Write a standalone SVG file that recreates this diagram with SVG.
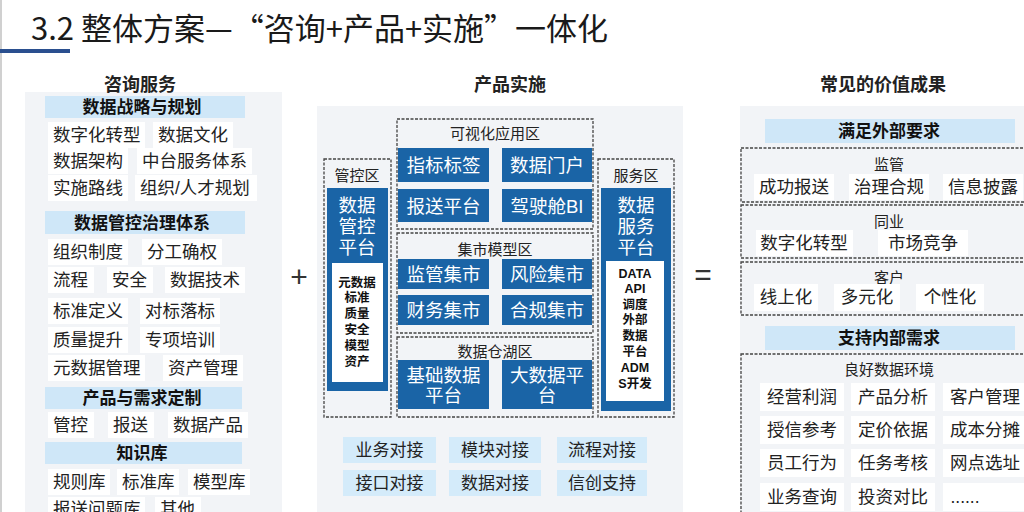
<svg xmlns="http://www.w3.org/2000/svg" width="1024" height="512" viewBox="0 0 1024 512">
<style>
text{font-family:'Liberation Sans','Noto Sans CJK SC',sans-serif;fill:#222;dominant-baseline:central}
.t{font-family:'Noto Sans CJK SC',sans-serif;font-size:31px;dominant-baseline:alphabetic;fill:#1a1a1a}
.ct{font-size:18px;font-weight:bold;text-anchor:middle}
.hb{fill:#cfe7f8}
.hd{font-size:17px;font-weight:bold;text-anchor:middle;fill:#111}
.it{font-size:17.5px}
.ri{font-size:17.5px;text-anchor:middle}
.cell{fill:#ffffff}
.bg{fill:#f2f4f7}
.dz{fill:none;stroke:#444;stroke-width:1.3;stroke-dasharray:3 1.5}
.bl{fill:#1a64a6}
.bt{font-size:18.5px;fill:#ffffff;text-anchor:middle}
.zl{font-size:15px;text-anchor:middle;fill:#222}
.sm{font-size:12.5px;font-weight:bold;text-anchor:middle;fill:#111}
.lb{fill:#d4ebfa}
.lt{font-size:17px;text-anchor:middle;fill:#222}
.op{font-size:30px;text-anchor:middle;fill:#333}
</style>
<rect width="1024" height="512" fill="#ffffff"/>
<line x1="1" y1="0" x2="1" y2="512" stroke="#d0d0d0" stroke-width="2"/>
<g id="title">
<text class="t" x="31" y="40">3.2 整体方案—“咨询+产品+实施”一体化</text>
<rect x="0" y="49" width="70" height="4" fill="#2a4f8f"/>
</g>

<g id="consult">
<rect class="bg" x="25" y="92" width="257" height="420"/>
<text class="ct" x="140" y="85">咨询服务</text>
<rect class="hb" x="45" y="96" width="200" height="22"/>
<text class="hd" x="142" y="107">数据战略与规划</text>
<rect class="cell" x="48" y="122" width="97" height="26"/><text class="it" x="53" y="135">数字化转型</text>
<rect class="cell" x="153" y="122" width="80" height="26"/><text class="it" x="158" y="135">数据文化</text>
<rect class="cell" x="48" y="148" width="80" height="26"/><text class="it" x="53" y="161">数据架构</text>
<rect class="cell" x="137" y="148" width="115" height="26"/><text class="it" x="142" y="161">中台服务体系</text>
<rect class="cell" x="48" y="175" width="80" height="26"/><text class="it" x="53" y="188">实施路线</text>
<rect class="cell" x="135" y="175" width="122" height="26"/><text class="it" x="140" y="188">组织/人才规划</text>
<rect class="hb" x="45" y="211" width="200" height="23"/>
<text class="hd" x="142" y="223">数据管控治理体系</text>
<rect class="cell" x="48" y="239" width="80" height="26"/><text class="it" x="53" y="252">组织制度</text>
<rect class="cell" x="142" y="239" width="80" height="26"/><text class="it" x="147" y="252">分工确权</text>
<rect class="cell" x="48" y="267" width="46" height="26"/><text class="it" x="53" y="280">流程</text>
<rect class="cell" x="107" y="267" width="46" height="26"/><text class="it" x="112" y="280">安全</text>
<rect class="cell" x="165" y="267" width="80" height="26"/><text class="it" x="170" y="280">数据技术</text>
<rect class="cell" x="48" y="298" width="80" height="26"/><text class="it" x="53" y="311">标准定义</text>
<rect class="cell" x="140" y="298" width="80" height="26"/><text class="it" x="145" y="311">对标落标</text>
<rect class="cell" x="48" y="327" width="80" height="26"/><text class="it" x="53" y="340">质量提升</text>
<rect class="cell" x="140" y="327" width="80" height="26"/><text class="it" x="145" y="340">专项培训</text>
<rect class="cell" x="48" y="355" width="97" height="26"/><text class="it" x="53" y="368">元数据管理</text>
<rect class="cell" x="163" y="355" width="80" height="26"/><text class="it" x="168" y="368">资产管理</text>
<rect class="hb" x="45" y="387" width="197" height="22"/>
<text class="hd" x="142" y="398">产品与需求定制</text>
<rect class="cell" x="48" y="412" width="46" height="26"/><text class="it" x="53" y="425">管控</text>
<rect class="cell" x="108" y="412" width="46" height="26"/><text class="it" x="113" y="425">报送</text>
<rect class="cell" x="168" y="412" width="80" height="26"/><text class="it" x="173" y="425">数据产品</text>
<rect class="hb" x="45" y="442" width="197" height="22"/>
<text class="hd" x="142" y="453">知识库</text>
<rect class="cell" x="48" y="469" width="62" height="26"/><text class="it" x="53" y="482">规则库</text>
<rect class="cell" x="117" y="469" width="62" height="26"/><text class="it" x="122" y="482">标准库</text>
<rect class="cell" x="188" y="469" width="62" height="26"/><text class="it" x="193" y="482">模型库</text>
<rect class="cell" x="48" y="497" width="97" height="26"/><text class="it" x="53" y="509">报送问题库</text>
<rect class="cell" x="155" y="497" width="46" height="26"/><text class="it" x="160" y="509">其他</text>
</g>

<g id="ops">
<text class="op" x="299" y="276">+</text>
<text class="op" x="703" y="274">=</text>
</g>

<g id="product">
<rect class="bg" x="317" y="106" width="366" height="406"/>
<text class="ct" x="510" y="85">产品实施</text>
</g>

<g id="zone-control">
<rect class="dz" x="324" y="159" width="67" height="258"/>
<text class="zl" x="357" y="175">管控区</text>
<rect class="bl" x="327" y="188" width="61" height="203"/>
<text class="bt" x="357" y="205">数据</text>
<text class="bt" x="357" y="226">管控</text>
<text class="bt" x="357" y="247">平台</text>
<rect x="332" y="263" width="51" height="119" fill="#ffffff"/>
<text class="sm" x="357" y="283">元数据</text>
<text class="sm" x="357" y="298">标准</text>
<text class="sm" x="357" y="314">质量</text>
<text class="sm" x="357" y="330">安全</text>
<text class="sm" x="357" y="346">模型</text>
<text class="sm" x="357" y="362">资产</text>
</g>

<g id="zone-visual">
<rect class="dz" x="397" y="119" width="196" height="110"/>
<text class="zl" x="495" y="133">可视化应用区</text>
<rect class="bl" x="398" y="148" width="91" height="34"/><text class="bt" x="443.5" y="165">指标标签</text>
<rect class="bl" x="502" y="148" width="90" height="34"/><text class="bt" x="547" y="165">数据门户</text>
<rect class="bl" x="398" y="189" width="91" height="33"/><text class="bt" x="443.5" y="206">报送平台</text>
<rect class="bl" x="502" y="189" width="90" height="33"/><text class="bt" x="547" y="206">驾驶舱BI</text>
</g>

<g id="zone-mart">
<rect class="dz" x="397" y="233" width="196" height="100"/>
<text class="zl" x="495" y="249">集市模型区</text>
<rect class="bl" x="398" y="259" width="91" height="30"/><text class="bt" x="443.5" y="274">监管集市</text>
<rect class="bl" x="502" y="259" width="90" height="30"/><text class="bt" x="547" y="274">风险集市</text>
<rect class="bl" x="398" y="295" width="91" height="30"/><text class="bt" x="443.5" y="310">财务集市</text>
<rect class="bl" x="502" y="295" width="90" height="30"/><text class="bt" x="547" y="310">合规集市</text>
</g>

<g id="zone-lake">
<rect class="dz" x="397" y="337" width="196" height="80"/>
<text class="zl" x="495" y="351">数据仓湖区</text>
<rect class="bl" x="398" y="360" width="91" height="49"/>
<text class="bt" x="443.5" y="375">基础数据</text><text class="bt" x="443.5" y="395">平台</text>
<rect class="bl" x="502" y="360" width="90" height="49"/>
<text class="bt" x="547" y="375">大数据平</text><text class="bt" x="547" y="395">台</text>
</g>

<g id="zone-service">
<rect class="dz" x="598" y="159" width="76" height="258"/>
<text class="zl" x="636" y="175">服务区</text>
<rect class="bl" x="601" y="188" width="70" height="223"/>
<text class="bt" x="636" y="205">数据</text>
<text class="bt" x="636" y="226">服务</text>
<text class="bt" x="636" y="247">平台</text>
<rect x="606" y="261" width="58" height="140" fill="#ffffff"/>
<text class="sm" x="635" y="274">DATA</text>
<text class="sm" x="635" y="289">API</text>
<text class="sm" x="635" y="305">调度</text>
<text class="sm" x="635" y="320">外部</text>
<text class="sm" x="635" y="336">数据</text>
<text class="sm" x="635" y="352">平台</text>
<text class="sm" x="635" y="368">ADM</text>
<text class="sm" x="635" y="384">S开发</text>
</g>

<g id="integration">
<rect class="lb" x="343" y="437" width="93" height="26"/><text class="lt" x="389.5" y="450">业务对接</text>
<rect class="lb" x="449" y="437" width="92" height="26"/><text class="lt" x="495" y="450">模块对接</text>
<rect class="lb" x="557" y="437" width="90" height="26"/><text class="lt" x="602" y="450">流程对接</text>
<rect class="lb" x="343" y="470" width="93" height="26"/><text class="lt" x="389.5" y="483">接口对接</text>
<rect class="lb" x="449" y="470" width="92" height="26"/><text class="lt" x="495" y="483">数据对接</text>
<rect class="lb" x="557" y="470" width="90" height="26"/><text class="lt" x="602" y="483">信创支持</text>
</g>

<g id="value">
<rect class="bg" x="740" y="106" width="284" height="406"/>
<text class="ct" x="883" y="85">常见的价值成果</text>
<rect class="hb" x="765" y="119" width="250" height="24"/>
<text class="hd" x="889" y="131">满足外部要求</text>
</g>
<g id="ext-reg">
<rect class="dz" x="741" y="148" width="290" height="54"/>
<text class="zl" x="889" y="164">监管</text>
<rect class="cell" x="754" y="174" width="80" height="26"/><text class="ri" x="794" y="187">成功报送</text>
<rect class="cell" x="849" y="174" width="80" height="26"/><text class="ri" x="889" y="187">治理合规</text>
<rect class="cell" x="943" y="174" width="80" height="26"/><text class="ri" x="983" y="187">信息披露</text>
</g>
<g id="ext-peer">
<rect class="dz" x="741" y="205" width="290" height="53"/>
<text class="zl" x="889" y="221">同业</text>
<rect class="cell" x="756" y="230" width="97" height="26"/><text class="ri" x="804" y="243">数字化转型</text>
<rect class="cell" x="878" y="230" width="90" height="26"/><text class="ri" x="923" y="243">市场竞争</text>
</g>
<g id="ext-cust">
<rect class="dz" x="741" y="262" width="290" height="53"/>
<text class="zl" x="889" y="277">客户</text>
<rect class="cell" x="754" y="284" width="64" height="27"/><text class="ri" x="786" y="297">线上化</text>
<rect class="cell" x="834" y="284" width="66" height="27"/><text class="ri" x="867" y="297">多元化</text>
<rect class="cell" x="916" y="284" width="68" height="27"/><text class="ri" x="950" y="297">个性化</text>
</g>
<g id="internal">
<rect class="hb" x="765" y="326" width="250" height="24"/>
<text class="hd" x="889" y="338">支持内部需求</text>
<rect class="dz" x="741" y="354" width="290" height="170"/>
<text class="zl" x="889" y="369">良好数据环境</text>
<rect class="cell" x="760" y="383" width="84" height="28"/><text class="ri" x="802" y="397">经营利润</text>
<rect class="cell" x="851" y="383" width="84" height="28"/><text class="ri" x="893" y="397">产品分析</text>
<rect class="cell" x="943" y="383" width="84" height="28"/><text class="ri" x="985" y="397">客户管理</text>
<rect class="cell" x="760" y="416" width="84" height="28"/><text class="ri" x="802" y="430">授信参考</text>
<rect class="cell" x="851" y="416" width="84" height="28"/><text class="ri" x="893" y="430">定价依据</text>
<rect class="cell" x="943" y="416" width="84" height="28"/><text class="ri" x="985" y="430">成本分摊</text>
<rect class="cell" x="760" y="449" width="84" height="28"/><text class="ri" x="802" y="463">员工行为</text>
<rect class="cell" x="851" y="449" width="84" height="28"/><text class="ri" x="893" y="463">任务考核</text>
<rect class="cell" x="943" y="449" width="84" height="28"/><text class="ri" x="985" y="463">网点选址</text>
<rect class="cell" x="760" y="483" width="84" height="28"/><text class="ri" x="802" y="497">业务查询</text>
<rect class="cell" x="851" y="483" width="84" height="28"/><text class="ri" x="893" y="497">投资对比</text>
<rect class="cell" x="943" y="483" width="84" height="28"/><text class="ri" x="965" y="497">......</text>
</g>
</svg>
